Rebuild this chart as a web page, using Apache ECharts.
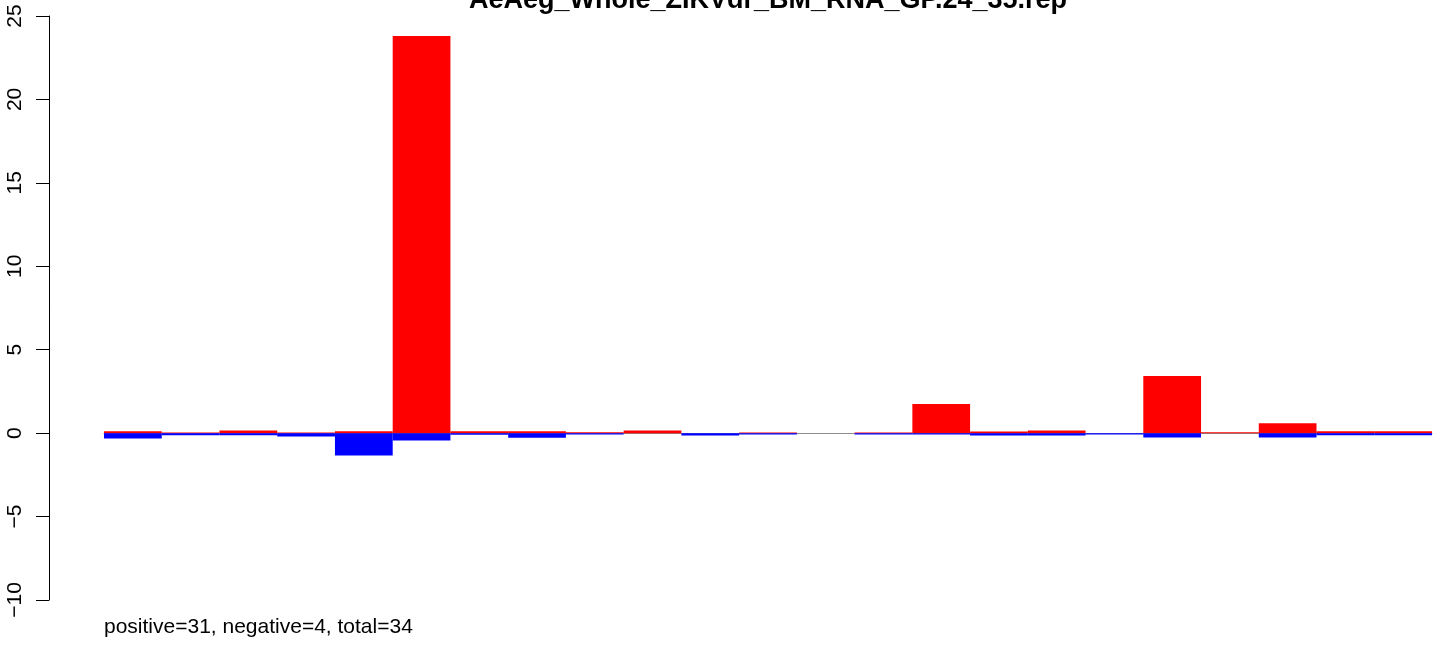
<!DOCTYPE html>
<html>
<head>
<meta charset="utf-8">
<script src="https://cdn.jsdelivr.net/npm/echarts@6/dist/echarts.min.js"></script>
<style>
html,body{margin:0;padding:0;background:#fff;}
#chart{width:1444px;height:649px;}
</style>
</head>
<body>
<div id="chart"></div>
<script>
const categories = ["1","2","3","4","5","6","7","8","9","10","11","12","13","14","15","16","17","18","19","20","21","22","23"];
const positiveValues = [0.12,0.04,0.16,0.04,0.12,23.8,0.12,0.12,0.06,0.16,0,0.04,0,0.04,1.74,0.1,0.16,0,3.42,0.06,0.6,0.12,0.12];
const negativeValues = [-0.32,-0.13,-0.13,-0.2,-1.34,-0.44,-0.1,-0.28,-0.08,0,-0.14,-0.08,0,-0.08,-0.08,-0.14,-0.14,-0.08,-0.26,0,-0.26,-0.13,-0.13];
const yTicks = [-10,-5,0,5,10,15,20,25];
const titleText = "AeAeg_Whole_ZIKVdr_BM_RNA_GP.24_35.rep";
const footerText = "positive=31, negative=4, total=34";

const chart = echarts.init(document.getElementById('chart'));
const FONT = '"Liberation Sans", Arial, Helvetica, sans-serif';
chart.setOption({
  animation: false,
  backgroundColor: '#ffffff',
  grid: {left: 104, right: 12, top: 16, bottom: 49, containLabel: false},
  xAxis: {
    type: 'category',
    data: categories,
    axisLine: {show: true, onZero: true, lineStyle: {color: '#8c8c8c', width: 1}},
    axisTick: {show: false},
    axisLabel: {show: false},
    splitLine: {show: false}
  },
  yAxis: {
    type: 'value',
    min: yTicks[0],
    max: yTicks[yTicks.length - 1],
    interval: 5,
    offset: 55,
    axisLine: {show: true, onZero: false, lineStyle: {color: '#000', width: 1}},
    axisTick: {show: true, length: 13, lineStyle: {color: '#000', width: 1}},
    axisLabel: {show: true, rotate: 90, margin: 23, fontFamily: FONT, fontSize: 21, color: '#000',
      formatter: v => (v < 0 ? '\u2212' + Math.abs(v) : String(v))},
    splitLine: {show: false}
  },
  series: [
    {
      name: 'positive', type: 'bar', stack: 'a', data: positiveValues,
      barCategoryGap: 0, itemStyle: {color: '#ff0000'}, z: 3
    },
    {
      name: 'negative', type: 'bar', stack: 'a', data: negativeValues,
      barCategoryGap: 0, itemStyle: {color: '#0000ff'}, z: 3
    }
  ],
  graphic: [
    {type: 'text', x: 768, y: 1,
      style: {text: titleText, font: 'bold 27px ' + FONT, fill: '#000', align: 'center', verticalAlign: 'middle'}},
    {type: 'text', x: 104, y: 627,
      style: {text: footerText, font: '21px ' + FONT, fill: '#000', align: 'left', verticalAlign: 'middle'}}
  ]
});
</script>
</body>
</html>
